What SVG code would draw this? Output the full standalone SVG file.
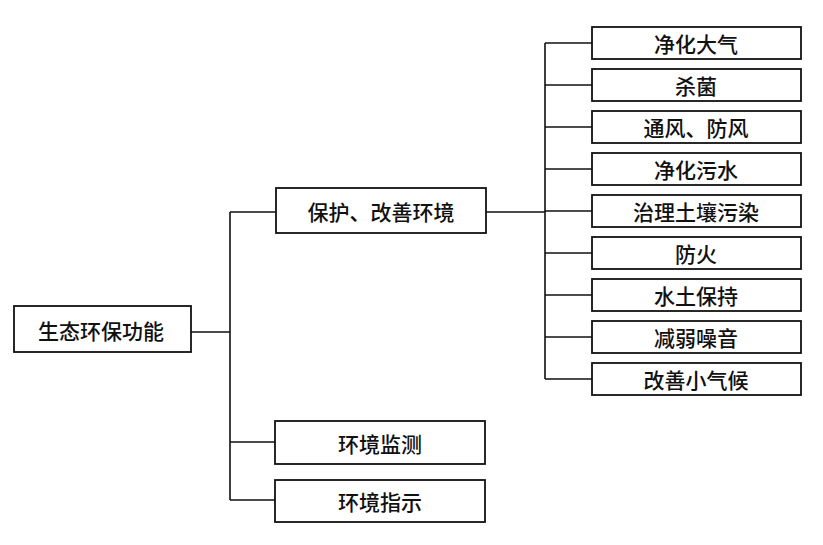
<svg xmlns="http://www.w3.org/2000/svg" width="823" height="545" viewBox="0 0 823 545">
<style>
.box{fill:#fff;stroke:#111;stroke-width:1.8}
.ln{fill:none;stroke:#111;stroke-width:1.6}
text{font-family:"Noto Sans CJK SC","Noto Sans",sans-serif;font-size:21px;font-weight:500;fill:#111;text-anchor:middle;dominant-baseline:central}
</style>
<rect width="823" height="545" fill="#fff"/>
<g id="connectors">
<path class="ln" d="M191,332 H230 M230,212 V500 M230,212 H276 M230,442 H275 M230,500 H275"/>
<path class="ln" d="M486,212 H545 M545,43 V379 M545,43 H592 M545,85 H592 M545,127 H592 M545,169 H592 M545,211 H592 M545,253 H592 M545,295 H592 M545,337 H592 M545,379 H592"/>
</g>
<g id="n0"><rect class="box" x="14" y="306" width="177" height="46"/><text x="101" y="330">生态环保功能</text></g>
<g id="n1"><rect class="box" x="276" y="188" width="210" height="45"/><text x="381" y="211">保护、改善环境</text></g>
<g id="n2"><rect class="box" x="275" y="421" width="210" height="43"/><text x="380" y="443">环境监测</text></g>
<g id="n3"><rect class="box" x="275" y="480" width="210" height="42"/><text x="380" y="501">环境指示</text></g>
<g id="r1"><rect class="box" x="592" y="27" width="209" height="32"/><text x="696" y="43">净化大气</text></g>
<g id="r2"><rect class="box" x="592" y="69" width="209" height="32"/><text x="696" y="85">杀菌</text></g>
<g id="r3"><rect class="box" x="592" y="111" width="209" height="32"/><text x="696" y="127">通风、防风</text></g>
<g id="r4"><rect class="box" x="592" y="153" width="209" height="32"/><text x="696" y="169">净化污水</text></g>
<g id="r5"><rect class="box" x="592" y="195" width="209" height="32"/><text x="696" y="211">治理土壤污染</text></g>
<g id="r6"><rect class="box" x="592" y="237" width="209" height="32"/><text x="696" y="253">防火</text></g>
<g id="r7"><rect class="box" x="592" y="279" width="209" height="32"/><text x="696" y="295">水土保持</text></g>
<g id="r8"><rect class="box" x="592" y="321" width="209" height="32"/><text x="696" y="337">减弱噪音</text></g>
<g id="r9"><rect class="box" x="592" y="363" width="209" height="32"/><text x="696" y="379">改善小气候</text></g>
</svg>
